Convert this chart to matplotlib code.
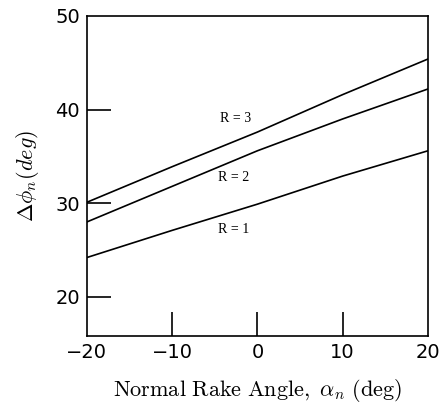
import matplotlib
matplotlib.use('Agg')
import matplotlib.pyplot as plt

# rake angle (deg)
alpha = [-20, -10, 0, 10, 20]
# delta phi_n for each R
r1 = [24.2, 27.1, 29.9, 32.9, 35.6]
r2 = [28.0, 31.8, 35.6, 39.0, 42.2]
r3 = [30.1, 33.9, 37.6, 41.6, 45.4]
labels = ['R = 1', 'R = 2', 'R = 3']

plt.rcParams['mathtext.fontset'] = 'cm'

fig = plt.figure(figsize=(4.43, 4.09), dpi=100)
ax = fig.add_axes([0.196, 0.178, 0.77, 0.783])

for y in (r1, r2, r3):
    ax.plot(alpha, y, color='black', lw=1.2)

ax.text(-2.8, 27.2, labels[0], fontsize=10, family='Liberation Serif', ha='center', va='center')
ax.text(-2.8, 32.7, labels[1], fontsize=10, family='Liberation Serif', ha='center', va='center')
ax.text(-2.6, 39.0, labels[2], fontsize=10, family='Liberation Serif', ha='center', va='center')

ax.set_xlim(-20, 20)
ax.set_ylim(15.8, 50)
ax.set_xticks([-20, -10, 0, 10, 20])
ax.set_yticks([20, 30, 40, 50])
ax.tick_params(direction='in', length=17, width=1.2, labelsize=14, pad=5)
# no tick marks at the frame corners
for t in ax.xaxis.get_major_ticks()[::4]:
    t.tick1line.set_visible(False)
ax.yaxis.get_major_ticks()[-1].tick1line.set_visible(False)

for s in ax.spines.values():
    s.set_linewidth(1.2)

ax.set_xlabel(r'$\mathrm{Normal\ Rake\ Angle,}\ \alpha_n\ \mathrm{(deg)}$', fontsize=16, labelpad=11)
ax.set_ylabel(r'$\Delta\phi_n(deg)$', fontsize=16, labelpad=10)

fig.savefig('out.png', dpi=100)
